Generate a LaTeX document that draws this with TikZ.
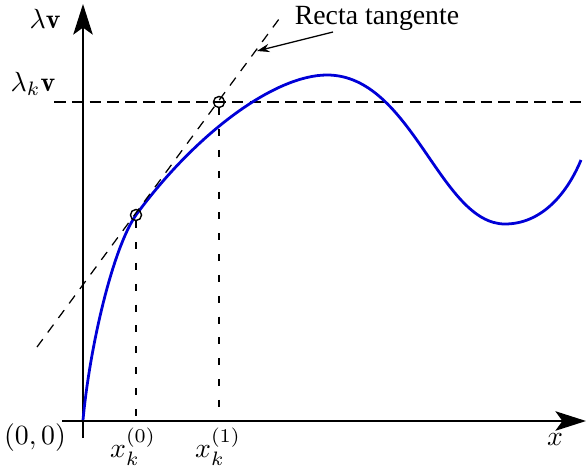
\documentclass[tikz,border=0pt]{standalone}
\usepackage{amsmath,amssymb}
\usepackage{fontspec}
\newfontfamily\etiqfont{Liberation Serif}
\definecolor{curvablue}{RGB}{0,0,215}
\usetikzlibrary{arrows.meta,positioning}

\begin{document}
\begin{tikzpicture}[x=0.36pt,y=-0.36pt,
		eje/.style={line width=0.8pt,-{Stealth[length=11pt,width=7pt,inset=2.5pt]}},
		curva/.style={curvablue,line width=1pt},
		guia/.style={line width=0.6pt,dash pattern=on 4.2pt off 2.2pt},
		vert/.style={line width=0.6pt,dash pattern=on 2.5pt off 5pt},
		tang/.style={line width=0.45pt,dash pattern=on 3.5pt off 3pt},
		punto/.style={circle,draw,line width=0.5pt,inner sep=0pt,minimum size=4pt}]
	
	\useasboundingbox (0,0) rectangle (587,469);
	
	% ejes
	\coordinate (ybot) at (83,438);
	\coordinate (ytop) at (83,4);
	\coordinate (xizq) at (62,421);
	\coordinate (xder) at (586,421);
	\draw[eje] (ybot)--(ytop);
	\draw[eje] (xizq)--(xder);
	
	% recta horizontal
	\coordinate (h1) at (54,102);
	\coordinate (h2) at (583,102);
	\draw[guia] (h1)--(h2);
	
	% curva
	\coordinate (c0) at (83,420);
	\coordinate (c1) at (136,215);
	\coordinate (c2) at (327,75);
	\coordinate (c3) at (505,224);
	\coordinate (c4) at (581,160);
	\draw[curva] (c0) .. controls (90,345) and (113,248) .. (c1)
		.. controls (196,133) and (275,75) .. (c2)
		.. controls (412,75) and (440,224) .. (c3)
		.. controls (540,224) and (566,196) .. (c4);
	
	% puntos
	\node[punto] (p0) at (c1) {};
	\node[punto] (p1) at (219,102) {};
	\coordinate (f0) at (136,416);
	\coordinate (f1) at (219,416);
	\draw[vert] (p0)--(f0);
	\draw[vert] (p1)--(f1);
	
	% recta tangente
	\coordinate (t1) at (37,347);
	\coordinate (t2) at (282,15);
	\draw[tang] (t1)--(t2);
	
	% etiquetas
	\node (lv)  at (45,19)  {$\lambda\mathbf{v}$};
	\node (lkv) at (33,84)  {$\lambda_k\mathbf{v}$};
	\node (org) at (35,438) {$(0,0)$};
	\node (xl)  at (555,440) {$x$};
	\node (x0)  at (133,447) {$x_k^{(0)}$};
	\node (x1)  at (218,447) {$x_k^{(1)}$};
	\node (rt)  at (377,18) {\etiqfont Recta tangente};
	\coordinate (rtini) at (333,32);
	\coordinate (rtfin) at (257,51);
	\draw[line width=0.45pt,-{Stealth[length=4.5pt,width=3pt]}] (rtini)--(rtfin);
\end{tikzpicture}
\end{document}
